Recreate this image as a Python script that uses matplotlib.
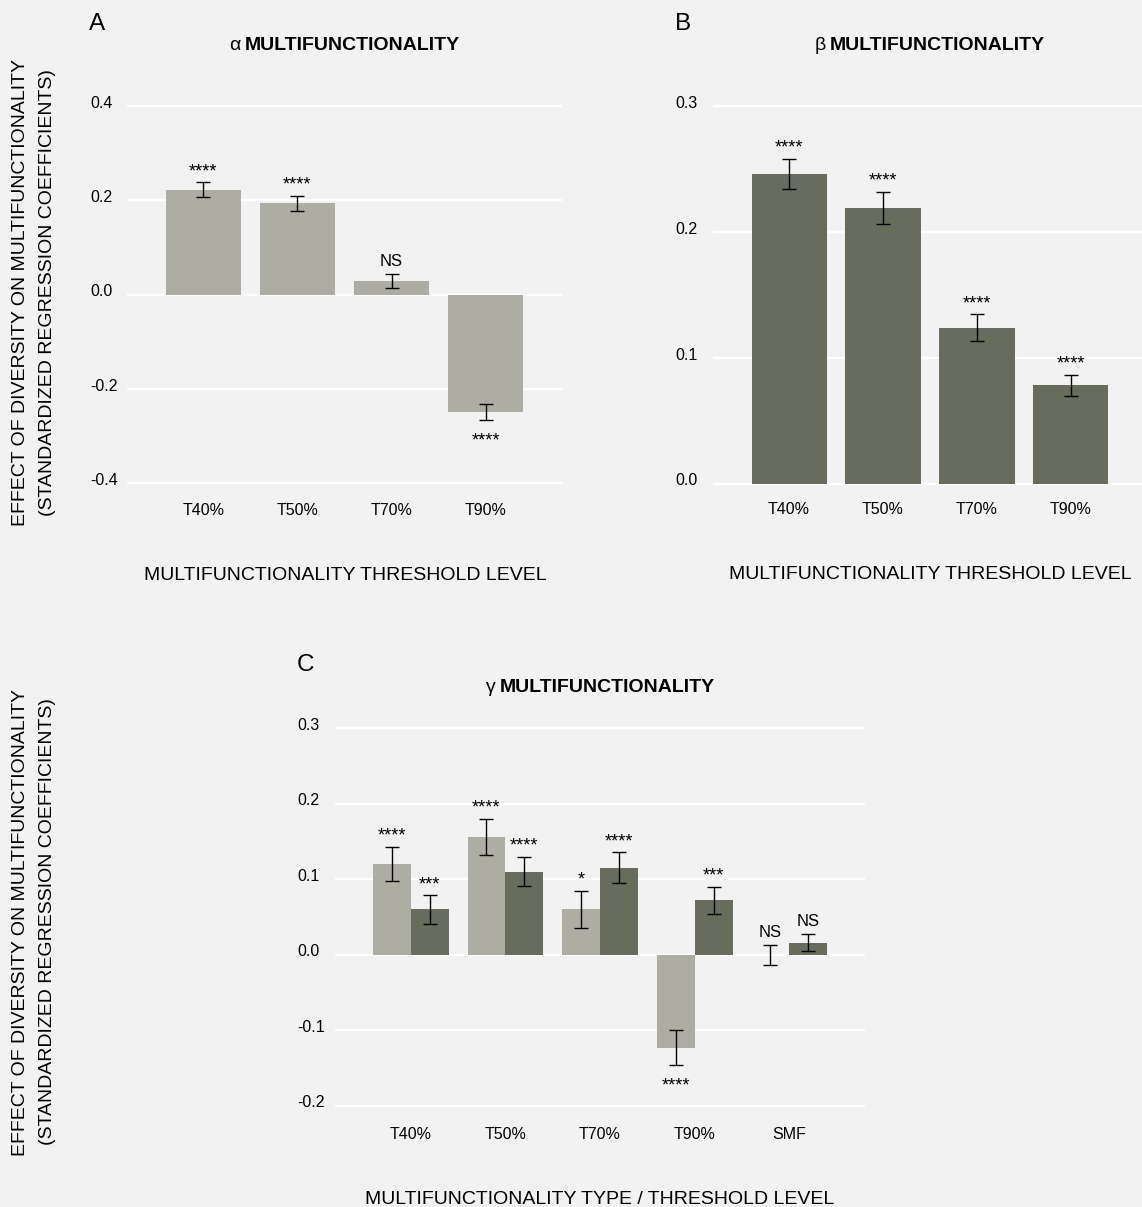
import numpy as np
import matplotlib.pyplot as plt

plt.rcParams['font.family'] = ['Liberation Sans', 'DejaVu Sans']

# ---- data ----
thresholds = ['T40%', 'T50%', 'T70%', 'T90%']

alpha_coef = [0.222, 0.194, 0.028, -0.249]
alpha_se = [0.016, 0.016, 0.015, 0.016]
alpha_sig = ['****', '****', 'NS', '****']

beta_coef = [0.246, 0.219, 0.124, 0.078]
beta_se = [0.012, 0.013, 0.0105, 0.0085]
beta_sig = ['****', '****', '****', '****']

gamma_types = ['T40%', 'T50%', 'T70%', 'T90%', 'SMF']
# light bars (alpha diversity) and dark bars (beta diversity)
gamma_a_coef = [0.120, 0.156, 0.060, -0.123, 0.0]
gamma_a_se = [0.023, 0.024, 0.025, 0.023, 0.013]
gamma_a_sig = ['****', '****', '*', '****', 'NS']
gamma_b_coef = [0.060, 0.110, 0.115, 0.072, 0.016]
gamma_b_se = [0.019, 0.0195, 0.0205, 0.018, 0.0113]
gamma_b_sig = ['***', '****', '****', '***', 'NS']

alpha_ticks = [-0.4, -0.2, 0.0, 0.2, 0.4]
beta_ticks = [0.0, 0.1, 0.2, 0.3]
gamma_ticks = [-0.2, -0.1, 0.0, 0.1, 0.2, 0.3]

# ---- style ----
BG = '#f2f2f2'
LIGHT = '#adada4'
DARK = '#686c5d'
W, H = 1142, 1207

fig = plt.figure(figsize=(W / 100, H / 100), dpi=100, facecolor=BG)


def make_panel(x0, x1, xlim, zero_px, ppu, ylim, ticks, tick_x):
    # place the axes so that data values land on the right pixels
    top = zero_px - ylim[1] * ppu
    bot = zero_px - ylim[0] * ppu
    ax = fig.add_axes([x0 / W, 1 - bot / H, (x1 - x0) / W, (bot - top) / H])
    ax.set_facecolor('none')
    ax.set_xlim(xlim)
    ax.set_ylim(ylim)
    for s in ax.spines.values():
        s.set_visible(False)
    ax.set_yticks(ticks)
    ax.set_xticks([])
    ax.tick_params(left=False, labelleft=False)
    ax.grid(axis='y', color='white', lw=1.7)
    ax.set_axisbelow(True)
    # left aligned tick labels like the original
    for t in ticks:
        ax.annotate(f'{t:.1f}', xy=(tick_x, t), xycoords=('figure pixels', 'data'),
                    xytext=(0, -1.7), textcoords='offset pixels',
                    ha='left', va='baseline', fontsize=11.5)
    return ax


def xlabels(ax, cats, base_px):
    for i, c in enumerate(cats):
        ax.annotate(c, xy=(i, H - base_px), xycoords=('data', 'figure pixels'),
                    ha='center', va='baseline', fontsize=11.5)


def bars(ax, x, vals, se, sig, color, width):
    ax.bar(x, vals, width=width, color=color, zorder=2)
    ax.errorbar(x, vals, yerr=se, fmt='none', ecolor='black', elinewidth=1.0,
                capsize=5, capthick=1.0, zorder=3)
    for xi, v, s, lab in zip(x, vals, se, sig):
        fs = 12 if lab == 'NS' else 13
        if v >= 0:
            off = 8 if lab == 'NS' else 6
            ax.annotate(lab, xy=(xi, v + s), xytext=(0, off), textcoords='offset pixels',
                        ha='center', va='baseline', fontsize=fs)
        else:
            ax.annotate(lab, xy=(xi, v - s), xytext=(0, -26), textcoords='offset pixels',
                        ha='center', va='baseline', fontsize=fs)


def title(ax, cx, base_px, greek):
    # bold word, with the greek letter in regular weight just to its left
    word = fig.text((cx + 7.5) / W, 1 - base_px / H, 'MULTIFUNCTIONALITY',
                    ha='center', va='baseline', fontsize=14, fontweight='bold')
    ax.annotate(greek, xy=(0, 0), xycoords=word, xytext=(-4, 0),
                textcoords='offset pixels', ha='right', va='bottom', fontsize=14)


# ---- panel A ----
axA = make_panel(127, 562, (-0.81, 3.81), 294.6, 471.6, (-0.45, 0.45), alpha_ticks, 90)
xA = np.arange(len(thresholds))
bars(axA, xA, alpha_coef, alpha_se, alpha_sig, LIGHT, 0.8)
xlabels(axA, thresholds, 515)

# ---- panel B ----
axB = make_panel(713, 1147, (-0.81, 3.81), 483.7, 1259, (-0.02, 0.32), beta_ticks, 675)
xB = np.arange(len(thresholds))
bars(axB, xB, beta_coef, beta_se, beta_sig, DARK, 0.8)
xlabels(axB, thresholds, 514)

# ---- panel C ----
axC = make_panel(335, 865, (-0.8, 4.8), 954.7, 755, (-0.23, 0.33), gamma_ticks, 297.5)
xC = np.arange(len(gamma_types))
bars(axC, xC - 0.2, gamma_a_coef, gamma_a_se, gamma_a_sig, LIGHT, 0.4)
bars(axC, xC + 0.2, gamma_b_coef, gamma_b_se, gamma_b_sig, DARK, 0.4)
xlabels(axC, gamma_types, 1139)

# ---- titles, letters, axis titles ----
title(axA, 344.5, 49.7, 'α')
title(axB, 930, 49.7, 'β')
title(axC, 600, 692, 'γ')

fig.text(89 / W, 1 - 30.5 / H, 'A', fontsize=17.5, va='baseline')
fig.text(675 / W, 1 - 30.5 / H, 'B', fontsize=17.5, va='baseline')
fig.text(297 / W, 1 - 671 / H, 'C', fontsize=17.5, va='baseline')

fig.text(345 / W, 1 - 579.8 / H, 'MULTIFUNCTIONALITY THRESHOLD LEVEL',
         ha='center', va='baseline', fontsize=14)
fig.text(930.5 / W, 1 - 578.8 / H, 'MULTIFUNCTIONALITY THRESHOLD LEVEL',
         ha='center', va='baseline', fontsize=14)
fig.text(600 / W, 1 - 1204 / H, 'MULTIFUNCTIONALITY TYPE / THRESHOLD LEVEL',
         ha='center', va='baseline', fontsize=14)

for yc in [293, 922]:
    fig.text(20.5 / W, 1 - yc / H, 'EFFECT OF DIVERSITY ON MULTIFUNCTIONALITY',
             rotation=90, ha='center', va='center', fontsize=14)
    fig.text(47.5 / W, 1 - yc / H, '(STANDARDIZED REGRESSION COEFFICIENTS)',
             rotation=90, ha='center', va='center', fontsize=14)

fig.savefig('out.png', dpi=100, facecolor=BG)
